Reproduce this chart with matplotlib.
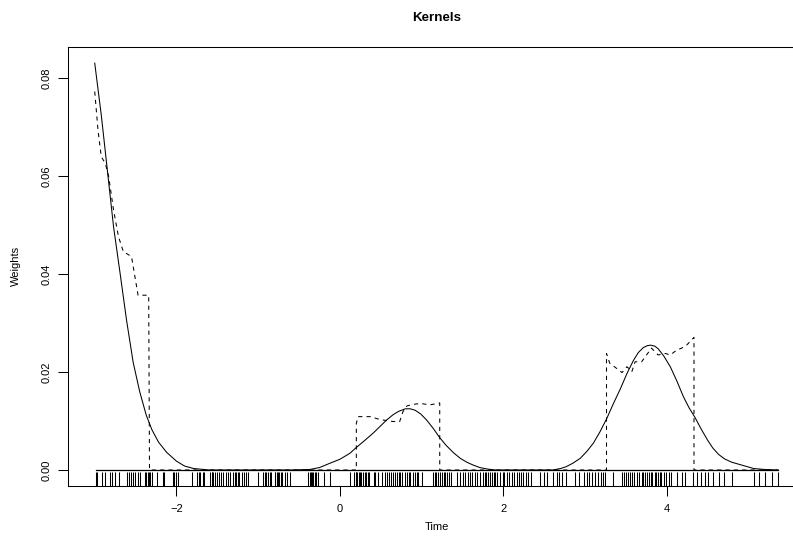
import matplotlib
matplotlib.use("Agg")
import matplotlib.pyplot as plt
import matplotlib.transforms as mtransforms

plt.rcParams['font.family'] = ['Liberation Sans', 'DejaVu Sans']

title = "Kernels"
xlabel = "Time"
ylabel = "Weights"
xticks = [-2, 0, 2, 4]
xtick_labels = ["\u22122", "0", "2", "4"]
yticks = [0.00, 0.02, 0.04, 0.06, 0.08]
ytick_labels = ["0.00", "0.02", "0.04", "0.06", "0.08"]

# smooth (solid) kernel weights
smooth_x = [-3.00, -2.92, -2.85, -2.77, -2.69, -2.61, -2.53, -2.45, -2.37, -2.30,
            -2.22, -2.12, -2.00, -1.90, -1.79, -1.60, -0.60, -0.37, -0.25, -0.12,
            0.00, 0.12, 0.20, 0.30, 0.41, 0.49, 0.57, 0.65, 0.72, 0.80,
            0.86, 0.92, 0.99, 1.06, 1.14, 1.22, 1.30, 1.39, 1.47, 1.55,
            1.63, 1.71, 1.80, 1.90, 2.60, 2.70, 2.77, 2.85, 2.94, 3.02,
            3.10, 3.18, 3.26, 3.34, 3.43, 3.51, 3.59, 3.65, 3.71, 3.76,
            3.80, 3.85, 3.89, 3.96, 4.04, 4.12, 4.20, 4.27, 4.34, 4.42,
            4.50, 4.56, 4.63, 4.70, 4.79, 5.06, 5.20, 5.36]
smooth_y = [0.0831, 0.0725, 0.0619, 0.0497, 0.0402, 0.0305, 0.0220, 0.0160, 0.0112, 0.0082,
            0.0057, 0.0036, 0.0018, 0.0008, 0.0003, 0.0000, 0.0000, 0.0001, 0.0005, 0.0014,
            0.0022, 0.0034, 0.0046, 0.0060, 0.0076, 0.0089, 0.0102, 0.0113, 0.0120, 0.0125,
            0.0125, 0.0122, 0.0114, 0.0102, 0.0085, 0.0066, 0.0050, 0.0035, 0.0024, 0.0016,
            0.0010, 0.0005, 0.0002, 0.0000, 0.0000, 0.0003, 0.0007, 0.0014, 0.0024, 0.0038,
            0.0055, 0.0078, 0.0104, 0.0134, 0.0166, 0.0197, 0.0224, 0.0240, 0.0250, 0.0254,
            0.0255, 0.0253, 0.0248, 0.0233, 0.0211, 0.0182, 0.0150, 0.0127, 0.0108, 0.0083,
            0.0060, 0.0045, 0.0032, 0.0023, 0.0016, 0.0003, 0.0001, 0.0000]

# local (dashed) kernel weights
local_x = [-3.00, -2.96, -2.92, -2.87, -2.83, -2.77, -2.71, -2.65, -2.55, -2.47,
           -2.34, -2.33, 0.20, 0.20, 0.22, 0.37, 0.49, 0.65, 0.73, 0.77,
           0.82, 0.90, 0.98, 1.10, 1.22, 1.22, 3.26, 3.26, 3.30, 3.38,
           3.45, 3.51, 3.57, 3.61, 3.69, 3.75, 3.81, 3.89, 3.98, 4.04,
           4.12, 4.18, 4.24, 4.33, 4.33, 5.36]
local_y = [0.0773, 0.0694, 0.0640, 0.0626, 0.0600, 0.0531, 0.0477, 0.0446, 0.0436, 0.0357,
           0.0357, 0.0000, 0.0000, 0.0095, 0.0109, 0.0109, 0.0103, 0.0099, 0.0099, 0.0119,
           0.0131, 0.0134, 0.0136, 0.0133, 0.0137, 0.0000, 0.0000, 0.0238, 0.0218, 0.0208,
           0.0199, 0.0211, 0.0201, 0.0221, 0.0221, 0.0235, 0.0249, 0.0235, 0.0238, 0.0235,
           0.0245, 0.0249, 0.0255, 0.0271, 0.0000, 0.0000]

# observation times (rug)
rug_times = [-2.99, -2.97, -2.91, -2.88, -2.81, -2.79, -2.75, -2.70, -2.61, -2.58,
             -2.56, -2.53, -2.51, -2.47, -2.45, -2.39, -2.37, -2.35, -2.34, -2.32,
             -2.30, -2.24, -2.16, -2.15, -2.04, -2.03, -2.00, -1.98, -1.81, -1.75,
             -1.73, -1.71, -1.68, -1.66, -1.59, -1.57, -1.56, -1.55, -1.53, -1.51,
             -1.48, -1.46, -1.43, -1.39, -1.37, -1.35, -1.31, -1.29, -1.27, -1.25,
             -1.24, -1.20, -1.17, -1.15, -1.12, -1.00, -0.94, -0.92, -0.90, -0.88,
             -0.86, -0.84, -0.80, -0.79, -0.77, -0.76, -0.74, -0.72, -0.71, -0.67,
             -0.65, -0.61, -0.39, -0.37, -0.36, -0.34, -0.33, -0.31, -0.29, -0.27,
             -0.20, -0.12, 0.12, 0.17, 0.19, 0.20, 0.21, 0.23, 0.24, 0.26,
             0.28, 0.30, 0.32, 0.34, 0.36, 0.41, 0.43, 0.47, 0.51, 0.55,
             0.57, 0.60, 0.62, 0.65, 0.67, 0.70, 0.72, 0.74, 0.76, 0.79,
             0.82, 0.84, 0.86, 0.89, 0.92, 0.94, 0.96, 1.00, 1.14, 1.16,
             1.18, 1.20, 1.22, 1.25, 1.27, 1.29, 1.31, 1.33, 1.36, 1.43,
             1.47, 1.50, 1.53, 1.57, 1.59, 1.61, 1.65, 1.68, 1.71, 1.75,
             1.77, 1.79, 1.81, 1.84, 1.86, 1.88, 1.90, 1.92, 1.96, 1.99,
             2.01, 2.04, 2.07, 2.10, 2.13, 2.16, 2.19, 2.22, 2.24, 2.28,
             2.30, 2.34, 2.45, 2.49, 2.53, 2.61, 2.65, 2.68, 2.71, 2.77,
             2.87, 2.92, 2.98, 3.02, 3.05, 3.08, 3.12, 3.16, 3.19, 3.22,
             3.24, 3.34, 3.45, 3.47, 3.50, 3.52, 3.55, 3.57, 3.60, 3.63,
             3.66, 3.69, 3.71, 3.73, 3.76, 3.78, 3.80, 3.82, 3.85, 3.87,
             3.89, 3.91, 3.93, 3.96, 3.99, 4.02, 4.05, 4.12, 4.18, 4.22,
             4.32, 4.37, 4.42, 4.46, 4.50, 4.56, 4.63, 4.70, 4.79, 5.06,
             5.12, 5.20, 5.28, 5.36]

W, H = 793, 548
fig = plt.figure(figsize=(W / 100, H / 100), dpi=100)
L, R, T, B = 68, 805, 47, 486
ax = fig.add_axes([L / W, (H - B) / H, (R - L) / W, (B - T) / H])

# zero reference line across the observed time span
ax.plot([min(rug_times), max(rug_times)], [0, 0], color="black", lw=0.9)
ax.plot(smooth_x, smooth_y, color="black", lw=0.75, solid_joinstyle="round")
ax.plot(local_x, local_y, color="black", lw=0.75, dashes=(4, 4))

trans = mtransforms.blended_transform_factory(ax.transData, ax.transAxes)
ax.vlines(rug_times, 0, 0.033, transform=trans, color="black", lw=0.75)

ax.set_xlim(-3.327, 5.688)
ax.set_ylim(-0.00327, 0.0864)

ax.set_xticks(xticks)
ax.set_xticklabels(xtick_labels, fontsize=8)
ax.set_yticks(yticks)
ax.set_yticklabels(ytick_labels, fontsize=8, rotation=90, va="center")
ax.tick_params(axis="both", direction="out", length=7, width=0.75, pad=6)
ax.tick_params(axis="y", pad=5)

for s in ax.spines.values():
    s.set_linewidth(0.75)
ax.spines["right"].set_visible(False)

fig.text((L + R) / 2 / W, 1 - 18 / H, title, ha="center", va="center",
         fontsize=9.6, fontweight="bold")
fig.text((L + R) / 2 / W, 1 - 527 / H, xlabel, ha="center", va="center", fontsize=8)
fig.text(16 / W, 1 - 266 / H, ylabel, ha="center", va="center", fontsize=8, rotation=90)

fig.savefig("out.png", dpi=100, facecolor="white")
